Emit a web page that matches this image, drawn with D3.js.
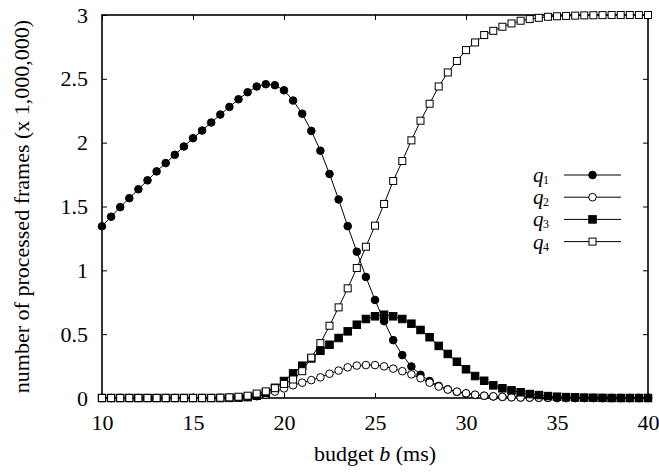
<!DOCTYPE html>
<html>
<head>
<meta charset="utf-8">
<script src="https://cdn.jsdelivr.net/npm/d3@7"></script>
<style>
  body { margin: 0; background: #fff; }
  svg { display: block; font-family: "Liberation Serif", "Times New Roman", Times, serif; }
  text { font-family: "Liberation Serif", "Times New Roman", Times, serif; fill: #000; }
</style>
</head>
<body>
<svg id="chart" width="659" height="472"></svg>
<script>
// Budget values (ms) at which each configuration was evaluated
const budget = [
  10, 10.5, 11, 11.5, 12, 12.5, 13, 13.5, 14, 14.5,
  15, 15.5, 16, 16.5, 17, 17.5, 18, 18.5, 19, 19.5,
  20, 20.5, 21, 21.5, 22, 22.5, 23, 23.5, 24, 24.5,
  25, 25.5, 26, 26.5, 27, 27.5, 28, 28.5, 29, 29.5,
  30, 30.5, 31, 31.5, 32, 32.5, 33, 33.5, 34, 34.5,
  35, 35.5, 36, 36.5, 37, 37.5, 38, 38.5, 39, 39.5, 40
];

// Processed frames (millions) per quality level
const q1 = [
  1.345, 1.42, 1.495, 1.565, 1.635, 1.705, 1.775, 1.84, 1.905, 1.97,
  2.035, 2.095, 2.158, 2.22, 2.28, 2.34, 2.395, 2.44, 2.458, 2.45,
  2.41, 2.33, 2.227, 2.092, 1.937, 1.755, 1.555, 1.346, 1.146, 0.948,
  0.768, 0.602, 0.453, 0.336, 0.247, 0.182, 0.133, 0.095, 0.068, 0.048,
  0.034, 0.024, 0.017, 0.012, 0.008, 0.006, 0.004, 0.003, 0.002, 0.001,
  0, 0, 0, 0, 0, 0, 0, 0, 0, 0, 0
];
const q2 = [
  0, 0, 0, 0, 0, 0, 0, 0, 0, 0,
  0, 0, 0, 0.001, 0.002, 0.004, 0.008, 0.014, 0.025, 0.05,
  0.075, 0.1, 0.12, 0.14, 0.162, 0.19, 0.215, 0.24, 0.254, 0.258,
  0.258, 0.248, 0.23, 0.21, 0.185, 0.155, 0.12, 0.09, 0.066, 0.05,
  0.037, 0.026, 0.018, 0.013, 0.009, 0.006, 0.004, 0.003, 0.002, 0.001,
  0, 0, 0, 0, 0, 0, 0, 0, 0, 0, 0
];
const q3 = [
  0, 0, 0, 0, 0, 0, 0, 0, 0, 0,
  0, 0, 0, 0, 0.001, 0.003, 0.007, 0.018, 0.04, 0.08,
  0.133, 0.193, 0.253, 0.31, 0.37, 0.417, 0.47, 0.522, 0.574, 0.619,
  0.64, 0.652, 0.64, 0.619, 0.582, 0.533, 0.476, 0.408, 0.345, 0.284,
  0.225, 0.172, 0.135, 0.099, 0.076, 0.06, 0.045, 0.031, 0.023, 0.015,
  0.01, 0.007, 0.005, 0.003, 0.002, 0.001, 0, 0, 0, 0, 0
];
const q4 = [
  0, 0, 0, 0, 0, 0, 0, 0, 0, 0,
  0, 0, 0, 0.002, 0.005, 0.01, 0.018, 0.035, 0.052, 0.077,
  0.11, 0.145, 0.21, 0.316, 0.43, 0.566, 0.71, 0.859, 1.018, 1.185,
  1.35, 1.52, 1.7, 1.856, 2.018, 2.172, 2.305, 2.44, 2.55, 2.64,
  2.725, 2.785, 2.843, 2.876, 2.908, 2.934, 2.955, 2.968, 2.978, 2.986,
  2.99, 2.993, 2.995, 2.997, 2.998, 2.999, 3.0, 3.0, 3.0, 3.0, 3.0
];

const seriesNames = ["1", "2", "3", "4"];
const seriesValues = [q1, q2, q3, q4];
const seriesMarker = ["filledCircle", "openCircle", "filledSquare", "openSquare"];

const xTicks = [10, 15, 20, 25, 30, 35, 40];
const yTicks = [0, 0.5, 1, 1.5, 2, 2.5, 3];
const xTickLabels = ["10", "15", "20", "25", "30", "35", "40"];
const yTickLabels = ["0", "0.5", "1", "1.5", "2", "2.5", "3"];

const FONT = '"Liberation Serif", "Times New Roman", Times, serif';
const svg = d3.select("#chart");
const plotLeft = 102, plotRight = 648, plotTop = 15, plotBottom = 398;

const x = d3.scaleLinear().domain([10, 40]).range([plotLeft, plotRight]);
const y = d3.scaleLinear().domain([0, 3]).range([plotBottom, plotTop]);

// Axes with inward ticks on all four sides
const axisG = svg.append("g");
axisG.append("g").attr("transform", `translate(0,${plotBottom})`)
  .call(d3.axisBottom(x).tickValues(xTicks).tickSize(-5).tickPadding(16)
    .tickFormat((d, i) => xTickLabels[i]));
axisG.append("g").attr("transform", `translate(${plotLeft},0)`)
  .call(d3.axisLeft(y).tickValues(yTicks).tickSize(-5).tickPadding(14)
    .tickFormat((d, i) => yTickLabels[i]));
axisG.append("g").attr("transform", `translate(0,${plotTop})`)
  .call(d3.axisTop(x).tickValues(xTicks).tickSize(-5).tickFormat(""));
axisG.append("g").attr("transform", `translate(${plotRight},0)`)
  .call(d3.axisRight(y).tickValues(yTicks).tickSize(-5).tickFormat(""));

axisG.selectAll("g").attr("font-family", FONT).attr("font-size", 22);
axisG.selectAll(".domain").remove();
axisG.selectAll(".tick line").attr("stroke", "#000").attr("stroke-width", 1);
axisG.selectAll(".tick text")
  .attr("font-family", FONT).style("font-family", FONT)
  .style("font-size", "22px").attr("fill", "#000");

// Plot frame
svg.append("rect")
  .attr("x", plotLeft).attr("y", plotTop)
  .attr("width", plotRight - plotLeft).attr("height", plotBottom - plotTop)
  .attr("fill", "none").attr("stroke", "#000").attr("stroke-width", 1.6);

// Axis titles
const xTitle = svg.append("text")
  .attr("x", (plotLeft + plotRight) / 2).attr("y", 461)
  .attr("text-anchor", "middle")
  .style("font-family", FONT).style("font-size", "22px");
xTitle.append("tspan").text("budget ");
xTitle.append("tspan").style("font-style", "italic").text("b");
xTitle.append("tspan").text(" (ms)");

svg.append("text")
  .attr("transform", `translate(29,${(plotTop + plotBottom) / 2}) rotate(-90)`)
  .attr("text-anchor", "middle")
  .style("font-family", FONT).style("font-size", "22px")
  .text("number of processed frames (x 1,000,000)");

// Marker drawing helper
function drawMarker(sel, kind) {
  if (kind === "filledCircle" || kind === "openCircle") {
    sel.append("circle").attr("r", 3.8)
      .attr("fill", kind === "filledCircle" ? "#000" : "#fff")
      .attr("stroke", "#000").attr("stroke-width", 1);
  } else {
    const s = kind === "filledSquare" ? 7.5 : 7;
    sel.append("rect").attr("x", -s / 2).attr("y", -s / 2)
      .attr("width", s).attr("height", s)
      .attr("fill", kind === "filledSquare" ? "#000" : "#fff")
      .attr("stroke", "#000").attr("stroke-width", 1);
  }
}

const line = d3.line().x((d, i) => x(budget[i])).y(d => y(d));
const plot = svg.append("g");

seriesValues.forEach((vals, si) => {
  const g = plot.append("g");
  g.append("path").datum(vals).attr("d", line)
    .attr("fill", "none").attr("stroke", "#000").attr("stroke-width", 1);
  g.selectAll("g.pt").data(vals).enter().append("g")
    .attr("class", "pt")
    .attr("transform", (d, i) => `translate(${x(budget[i])},${y(d)})`)
    .each(function () { drawMarker(d3.select(this), seriesMarker[si]); });
});

// Legend: italic q with a numeric subscript, sample line and marker
const legend = svg.append("g");
seriesNames.forEach((name, i) => {
  const ly = 175 + i * 22.2;
  const row = legend.append("g");
  row.append("text").attr("x", 533).attr("y", ly + 7)
    .style("font-family", FONT).style("font-size", "21px")
    .style("font-style", "italic").text("q");
  row.append("text").attr("x", 543).attr("y", ly + 9)
    .style("font-family", FONT).style("font-size", "12px").text(name);
  row.append("line").attr("x1", 564).attr("x2", 621)
    .attr("y1", ly).attr("y2", ly).attr("stroke", "#000").attr("stroke-width", 1);
  const m = row.append("g").attr("transform", `translate(592.5,${ly})`);
  drawMarker(m, seriesMarker[i]);
});
</script>
</body>
</html>
